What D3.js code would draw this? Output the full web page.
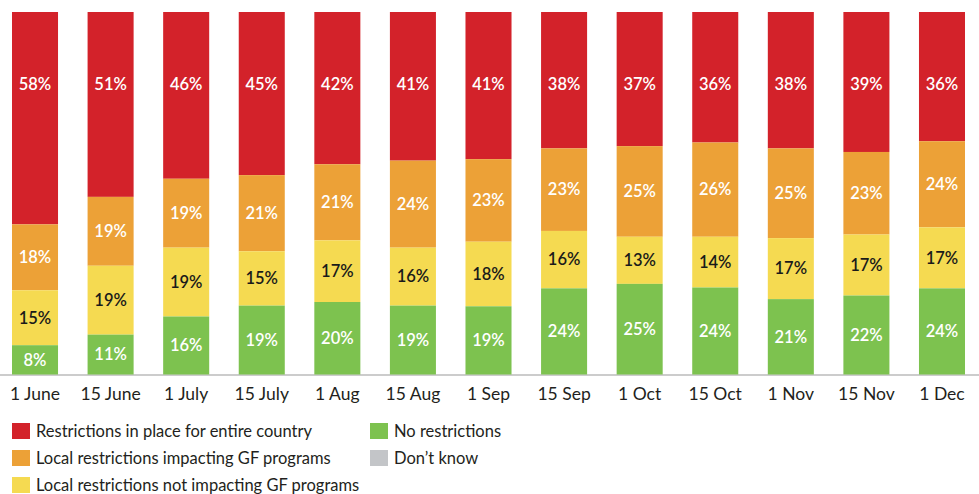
<!DOCTYPE html>
<html>
<head>
<meta charset="utf-8">
<script src="https://cdn.jsdelivr.net/npm/d3@7"></script>
<style>
  body { margin: 0; background: #fff; }
  svg { display: block; font-family: Lato, "Open Sans", sans-serif; }
</style>
</head>
<body>
<div id="chart"></div>
<script>
// data
var dates = ['1 June','15 June','1 July','15 July','1 Aug','15 Aug','1 Sep','15 Sep','1 Oct','15 Oct','1 Nov','15 Nov','1 Dec'];
var entireCountry = [58, 51, 46, 45, 42, 41, 41, 38, 37, 36, 38, 39, 36];
var localImpacting = [18, 19, 19, 21, 21, 24, 23, 23, 25, 26, 25, 23, 24];
var localNotImpacting = [15, 19, 19, 15, 17, 16, 18, 16, 13, 14, 17, 17, 17];
var noRestrictions = [8, 11, 16, 19, 20, 19, 19, 24, 25, 24, 21, 22, 24];
var dontKnow = [0, 0, 0, 0, 0, 0, 0, 0, 0, 0, 0, 0, 0];

var seriesNames = ['Restrictions in place for entire country', 'Local restrictions impacting GF programs',
  'Local restrictions not impacting GF programs', 'No restrictions', "Don\u2019t know"];
var seriesColors = ['#d3222a', '#eca137', '#f5da51', '#7dc24f', '#c3c5c8'];
var labelColors = ['#fff', '#fff', '#1a1a1a', '#fff', '#1a1a1a'];
var seriesValues = [entireCountry, localImpacting, localNotImpacting, noRestrictions, dontKnow];

var width = 979, height = 494;

var svg = d3.select('#chart').append('svg')
  .attr('width', width)
  .attr('height', height);

// one row per date
var rows = dates.map(function(d, i) {
  var r = { date: d };
  seriesNames.forEach(function(s, j) { r[s] = seriesValues[j][i]; });
  return r;
});

// stack from the top down: red first, then orange...
var stack = d3.stack()
  .keys(seriesNames)
  .offset(d3.stackOffsetExpand);
var layers = stack(rows);

var x = d3.scaleBand()
  .domain(dates)
  .range([12, 965])
  .paddingInner(0.391)
  .paddingOuter(0);

var y = d3.scaleLinear()
  .domain([0, 1])
  .range([12, 374.5]);

// baseline
svg.append('line')
  .attr('x1', 0).attr('x2', width)
  .attr('y1', 375).attr('y2', 375)
  .attr('stroke', '#cccccc')
  .attr('stroke-width', 2);

var g = svg.selectAll('g.layer')
  .data(layers)
  .enter().append('g')
  .attr('class', 'layer');

g.selectAll('rect')
  .data(function(d) { return d.map(function(v) { v.key = d.key; return v; }); })
  .enter().append('rect')
  .attr('x', function(d) { return x(d.data.date); })
  .attr('width', x.bandwidth())
  .attr('y', function(d) { return y(d[0]); })
  .attr('height', function(d) { return y(d[1]) - y(d[0]); })
  .attr('fill', function(d) { return seriesColors[seriesNames.indexOf(d.key)]; });

// value labels
g.selectAll('text')
  .data(function(d) { return d.filter(function(v) { return v.data[d.key] > 0; }); })
  .enter().append('text')
  .attr('x', function(d) { return x(d.data.date) + x.bandwidth() / 2; })
  .attr('y', function(d) {
    var k = seriesNames.indexOf(d.key);
    // country-wide labels sit at a fixed height near the top
    if (k === 0) return y(0) + 72;
    return (y(d[0]) + y(d[1])) / 2;
  })
  .attr('dy', '0.35em')
  .attr('text-anchor', 'middle')
  .attr('font-size', 16.5)
  .attr('font-weight', 600)
  .attr('fill', function(d) { return labelColors[seriesNames.indexOf(d.key)]; })
  .text(function(d) { return d.data[d.key] + '%'; });

// x axis labels
var xAxis = d3.axisBottom(x).tickSize(0).tickPadding(0);
var ax = svg.append('g')
  .attr('transform', 'translate(0,388)')
  .call(xAxis);
ax.select('.domain').remove();
ax.selectAll('text')
  .attr('font-size', 17.5)
  .attr('font-family', 'Lato, "Open Sans", sans-serif')
  .attr('fill', '#231f20')
  .attr('dy', '0.71em');

// legend
var legendPos = [[12, 431], [12, 458], [12, 485], [370, 431], [370, 458]];
var legend = svg.selectAll('g.legend')
  .data(seriesNames)
  .enter().append('g')
  .attr('class', 'legend')
  .attr('transform', function(d, i) { return 'translate(' + legendPos[i][0] + ',' + legendPos[i][1] + ')'; });

legend.append('rect')
  .attr('x', 0).attr('y', -8)
  .attr('width', 18).attr('height', 16)
  .attr('fill', function(d, i) { return seriesColors[i]; });

legend.append('text')
  .attr('x', 24)
  .attr('dy', '0.35em')
  .attr('font-size', 16.5)
  .attr('fill', '#231f20')
  .text(function(d) { return d; });
</script>
</body>
</html>
